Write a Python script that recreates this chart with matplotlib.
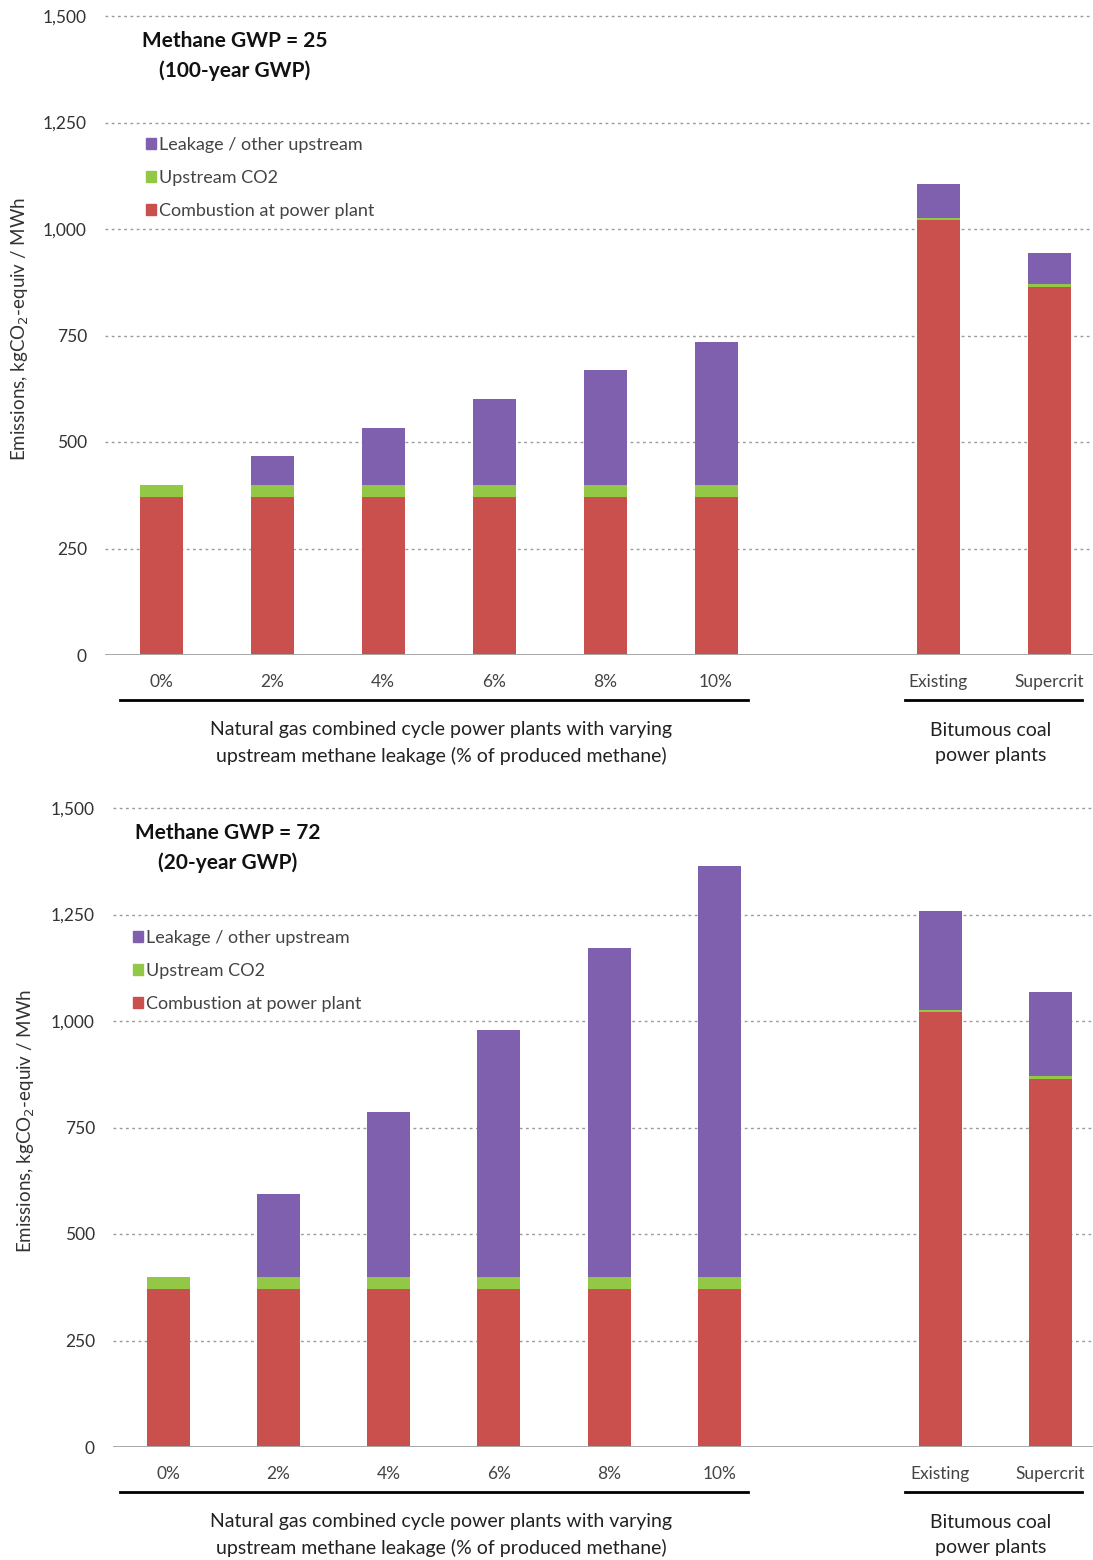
import matplotlib
matplotlib.use("Agg")
import matplotlib.pyplot as plt
from matplotlib.lines import Line2D
from matplotlib.patches import Patch
from matplotlib.ticker import FuncFormatter

plt.rcParams['font.family'] = ['Lato', 'DejaVu Sans']

# Categories
categories = ["0%", "2%", "4%", "6%", "8%", "10%", "Existing", "Supercrit"]
positions = [0, 1, 2, 3, 4, 5, 7, 8]

# Emissions, kgCO2-equiv / MWh
combustion = [370, 370, 370, 370, 370, 370, 1020, 865]
upstream_co2 = [30, 30, 30, 30, 30, 30, 6, 6]
leakage_gwp25 = [0, 67, 134, 201, 268, 335, 80, 72]
leakage_gwp72 = [0, 193, 386, 579, 772, 965, 232, 198]

panel_titles = ["Methane GWP = 25\n(100-year GWP)", "Methane GWP = 72\n(20-year GWP)"]
series_names = ["Leakage / other upstream", "Upstream CO2", "Combustion at power plant"]
yticks = [0, 250, 500, 750, 1000, 1250, 1500]
group_gas = "Natural gas combined cycle power plants with varying\nupstream methane leakage (% of produced methane)"
group_coal = "Bitumous coal\npower plants"

RED = "#C9504C"
GREEN = "#93C847"
PURPLE = "#7F60AE"

W, H = 1093, 1560
fig = plt.figure(figsize=(W / 100, H / 100), dpi=100)
PX = 0.426  # pixels per unit on the value axis

def add_panel(left_px, zero_px, spacing_px, first_center_px, leakage, title, title_xy, legend_xy, ylab_x, bracket_y, ylim_top=1530):
    top_px = zero_px - ylim_top * PX
    ax = fig.add_axes([left_px / W, 1 - zero_px / H, (W - left_px) / W, (zero_px - top_px) / H])
    x0 = (left_px - first_center_px) / spacing_px
    x1 = (W - first_center_px) / spacing_px
    ax.set_xlim(x0, x1)
    ax.set_ylim(0, ylim_top)
    bw = 43 / spacing_px
    base2 = [c + u for c, u in zip(combustion, upstream_co2)]
    ax.bar(positions, combustion, width=bw, color=RED, zorder=3)
    ax.bar(positions, upstream_co2, width=bw, bottom=combustion, color=GREEN, zorder=3)
    ax.bar(positions, leakage, width=bw, bottom=base2, color=PURPLE, zorder=3)

    for s in ax.spines.values():
        s.set_visible(False)
    ax.axhline(0, color="#a8a8a8", lw=1.4, zorder=4)
    for v in yticks[1:]:
        ax.axhline(v, color="#9a9a9a", lw=1.0, ls=(0, (2, 2.5)), zorder=1)
    ax.set_yticks(yticks)
    ax.yaxis.set_major_formatter(FuncFormatter(lambda v, p: f"{int(v):,}"))
    ax.tick_params(axis="y", length=0, pad=13, labelsize=12.5, labelcolor="#333333")
    ax.set_xticks(positions)
    ax.set_xticklabels(categories)
    ax.tick_params(axis="x", length=0, pad=14, labelsize=12.5, labelcolor="#444444")
    ax.set_ylabel("Emissions, kgCO$_2$-equiv / MWh", fontsize=13.5, color="#333333")
    ax.yaxis.set_label_coords((ylab_x - left_px) / (W - left_px), 0.5)

    fig.text(title_xy[0] / W, 1 - title_xy[1] / H, title, ha="center", va="center",
             fontsize=15, fontweight="bold", linespacing=1.6, color="#111111")

    handles = [Patch(color=PURPLE), Patch(color=GREEN), Patch(color=RED)]
    leg = fig.legend(handles, series_names, loc="upper left",
                     bbox_to_anchor=(legend_xy[0] / W, 1 - legend_xy[1] / H),
                     frameon=False, fontsize=13, handlelength=0.55, handleheight=0.55,
                     handletextpad=0.15, labelspacing=0.95, borderaxespad=0, borderpad=0)
    for t in leg.get_texts():
        t.set_color("#444444")

    # group brackets beneath the category labels
    for xa, xb in [(120, 748), (905, 1082)]:
        fig.add_artist(Line2D([xa / W, xb / W], [1 - bracket_y / H] * 2, color="black", lw=2))
    fig.text(441 / W, 1 - (bracket_y + 43) / H, group_gas, ha="center", va="center",
             fontsize=14, linespacing=1.55, color="#222222")
    fig.text(991 / W, 1 - (bracket_y + 43) / H, group_coal, ha="center", va="center",
             fontsize=14, linespacing=1.55, color="#222222")
    return ax

add_panel(105, 655, 111.0, 161, leakage_gwp25, panel_titles[0], (235, 56), (146, 137), 31, 700)
add_panel(113, 1447, 110.3, 168, leakage_gwp72, panel_titles[1], (228, 848), (133, 930), 37, 1492)

fig.savefig("out.png", dpi=100, facecolor="white")
